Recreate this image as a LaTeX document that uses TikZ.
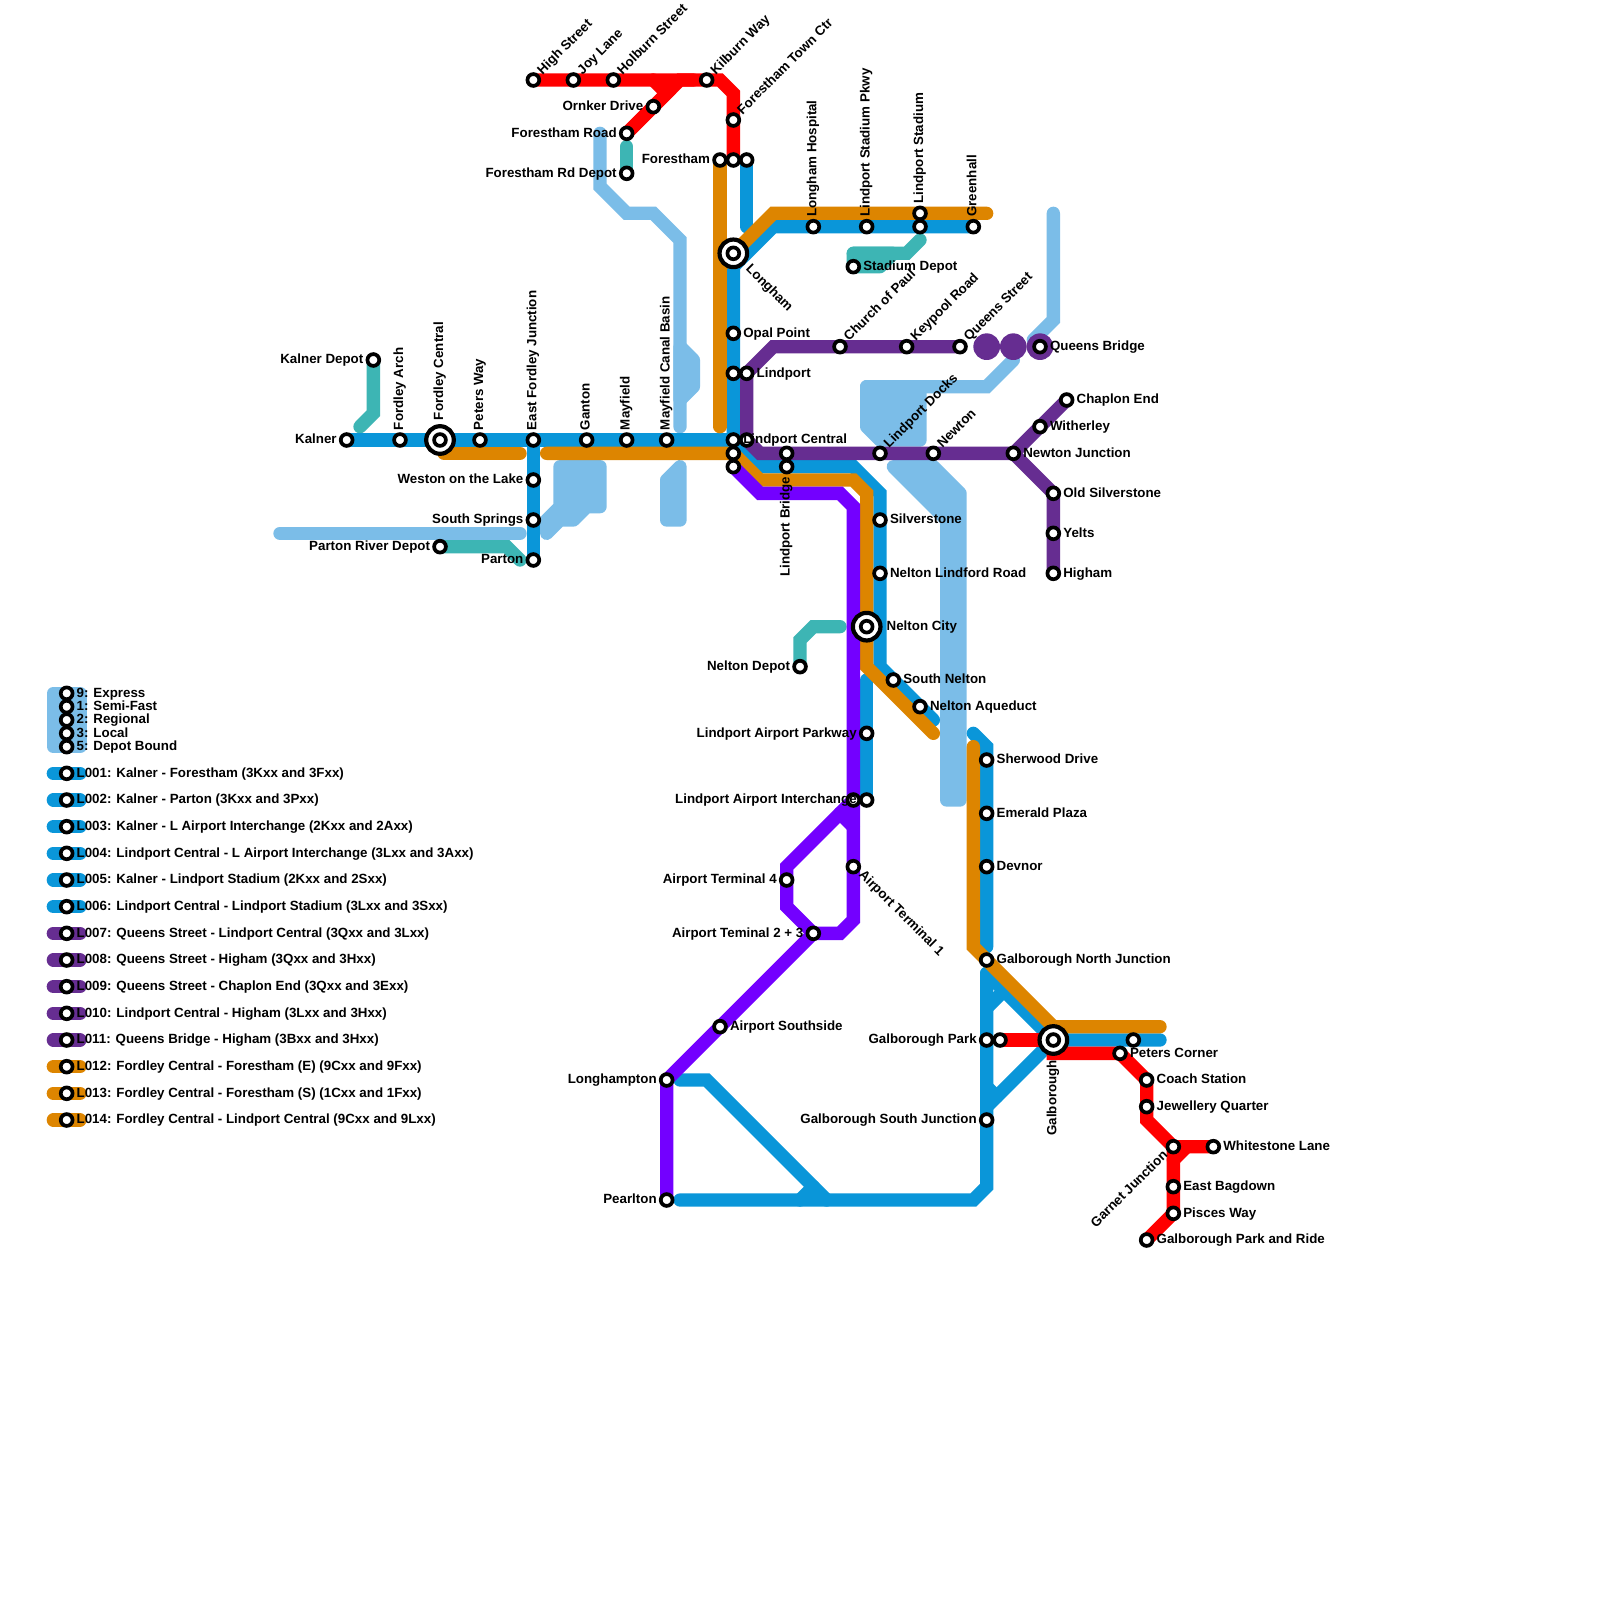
\documentclass[tikz,border=0pt]{standalone}
\usepackage{fontspec}
\setmainfont{Liberation Sans}
\definecolor{cblue}{HTML}{0A96D9}
\definecolor{corange}{HTML}{DD8500}
\definecolor{cpurple}{HTML}{662D91}
\definecolor{cviolet}{HTML}{7300FF}
\definecolor{cred}{HTML}{FF0000}
\definecolor{cteal}{HTML}{3DB5B4}
\definecolor{clight}{HTML}{7BBDE8}
\tikzset{
  rail/.style={line width=6.6667pt,line cap=round,line join=miter,miter limit=4},
  railfill/.style={rail,line join=round,draw=#1,fill=#1},
  st/.style={circle,draw=black,fill=white,line width=1.85pt,minimum size=5.9pt,inner sep=0pt,outer sep=0pt},
  bigst/.style={circle,draw=black,fill=white,line width=2.1pt,minimum size=13.8pt,inner sep=0pt,outer sep=0pt},
  dot/.style={circle,fill=cpurple,minimum size=13.33pt,inner sep=0pt,outer sep=0pt},
  lab/.style={inner sep=0pt,outer sep=0pt,text=black,font=\fontsize{6.667}{7.5}\selectfont\bfseries},
  lE/.style={lab,anchor=base west,xshift=5pt,yshift=-1.9pt},
  lEE/.style={lab,anchor=base west,xshift=10pt,yshift=-1.9pt},
  lW/.style={lab,anchor=base east,xshift=-5pt,yshift=-1.9pt},
  lN/.style={lab,xshift=1.5pt,yshift=5pt,rotate=90,anchor=base west},
  lNN/.style={lab,xshift=1.5pt,yshift=10pt,rotate=90,anchor=base west},
  lS/.style={lab,xshift=1.5pt,yshift=-5pt,rotate=90,anchor=base east},
  lSS/.style={lab,xshift=1.5pt,yshift=-10pt,rotate=90,anchor=base east},
  lNE/.style={lab,xshift=4.6pt,yshift=2.47pt,rotate=45,anchor=base west},
  lSE/.style={lab,xshift=2.48pt,yshift=-4.6pt,rotate=-45,anchor=base west},
  lSEE/.style={lab,xshift=6pt,yshift=-8.1pt,rotate=-45,anchor=base west},
  lSW/.style={lab,xshift=-2.48pt,yshift=-4.6pt,rotate=45,anchor=base east},
}
\begin{document}
\begin{tikzpicture}[x=6.66667pt,y=-6.66667pt]
\fill[white] (0,0) rectangle (120,120);
\useasboundingbox (0,0) rectangle (120,120);
% station positions
\foreach \n/\x/\y in {hs/40/6,jl/43/6,hb/46/6,kw/53/6,ftc/55/9,od/49/8,fr/47/10,frd/47/13,fa/54/12,fb/55/12,fc/56/12,
 lg/55/19,op/55/25,lpa/55/28,lpb/56/28,lca/55/33,lcb/56/33,lcc/55/34,lcd/55/35,
 ka/26/33,kd/28/27,far/30/33,fdc/33/33,pw/36/33,efj/40/33,gt/44/33,mf/47/33,mcb/50/33,
 wl/40/36,ss/40/39,pt/40/42,prd/33/41,
 lh/61/17,lsp/65/17,lsa/69/16,lsb/69/17,gh/73/17,sd/64/20,
 cp/63/26,kr/68/26,qs/72/26,qa/74/26,qb/76/26,qbr/78/26,ce/80/30,wi/78/32,nj/76/34,nw/70/34,ld/66/34,
 os/79/37,yl/79/40,hi/79/43,lba/59/34,lbb/59/35,si/66/39,nl/66/43,nc/65/47,nd/60/50,sn/67/51,na/69/53,lap/65/55,
 aia/65/60,aib/64/60,at1/64/65,at4/59/66,at2/61/70,as/54/77,lo/50/81,pe/50/90,
 sh/74/57,em/74/61,de/74/65,gn/74/72,gpa/74/78,gpb/75/78,gb/79/78,gs/74/84,
 pca/85/78,pcb/84/79,co/86/81,jq/86/83,ga/88/86,wh/91/86,eb/88/89,pi/88/91,gr/86/93}
  {\coordinate (\n) at (\x,\y);}
% legend keys
\filldraw[railfill=clight] (4,52) -- (6,52) -- (6,56) -- (4,56) -- cycle;
\foreach \y in {58,60,62,64,66,68} {\draw[rail,cblue] (4,\y) -- (6,\y);}
\foreach \y in {70,72,74,76,78} {\draw[rail,cpurple] (4,\y) -- (6,\y);}
\foreach \y in {80,82,84} {\draw[rail,corange] (4,\y) -- (6,\y);}
% light blue
\draw[rail,clight] (21,40) -- (39,40);
\filldraw[railfill=clight] (42,35) -- (45,35) -- (45,38) -- (44,38) -- (43,39) -- (42,39) -- (41,40) -- (41,39) -- (42,38) -- cycle;
\filldraw[railfill=clight] (51,35) -- (51,39) -- (50,39) -- (50,36) -- cycle;
\draw[rail,clight] (45,10) -- (45,14) -- (47,16) -- (49,16) -- (51,18) -- (51,32);
\filldraw[railfill=clight] (51,26) -- (52,27) -- (52,29) -- (51,30) -- cycle;
\filldraw[railfill=clight] (65,29) -- (69,29) -- (69,33) -- (66,33) -- (65,32) -- cycle;
\draw[rail,clight] (65,29) -- (74,29) -- (76,27);
\filldraw[railfill=clight] (67,35) -- (70,35) -- (72,37) -- (72,60) -- (71,60) -- (71,39) -- cycle;
\draw[rail,clight] (79,16) -- (79,24) -- (77.5,25.5);
% teal
\draw[rail,cteal] (kd) -- (28,31) -- (27,32);
\draw[rail,cteal] (prd) -- (38,41) -- (39,42);
\draw[rail,cteal] (47,11) -- (frd);
\draw[rail,cteal] (nd) -- (60,48) -- (61,47) -- (63,47);
\draw[rail,cteal] (64,19) -- (68,19) -- (69,18);
\filldraw[railfill=cteal] (64,19) -- (67,19) -- (66,20) -- (sd) -- cycle;
% blue
\draw[rail,cblue] (ka) -- (lca);
\draw[rail,cblue] (lg) -- (lca) -- (57,35) -- (64,35) -- (66,37) -- (66,50) -- (70,54);
\draw[rail,cblue] (fc) -- (56,17);
\draw[rail,cblue] (55,20) -- (58,17) -- (gh);
\draw[rail,cblue] (efj) -- (pt);
\draw[rail,cblue] (65,51) -- (aia);
\draw[rail,cblue] (73,55) -- (74,56) -- (74,71);
\draw[rail,cblue] (74,73) -- (74,89) -- (73,90) -- (51,90);
\draw[rail,cblue] (74,73) -- (gb) -- (87,78);
\draw[rail,cblue] (gb) -- (74,83);
\draw[rail,cblue] (74,75.6) -- (75.3,74.3);
\draw[rail,cblue] (74,81.5) -- (74.75,82.25);
\draw[rail,cblue] (51,81) -- (53,81) -- (62,90);
\draw[rail,cblue] (60,90) -- (61,89);
% orange
\draw[rail,corange] (fa) -- (54,32);
\draw[rail,corange] (54,20) -- (58,16) -- (74,16);
\draw[rail,corange] (33.3,34) -- (39,34);
\draw[rail,corange] (41,34) -- (lcc) -- (57,36) -- (64,36) -- (65,37) -- (65,50) -- (70,55);
\draw[rail,corange] (73,56) -- (73,71) -- (79,77) -- (87,77);
% red
\draw[rail,cred] (hs) -- (kw) -- (54,6) -- (55,7) -- (fb);
\draw[rail,cred] (49,6) -- (50,7) -- (fr);
\draw[rail,cred] (fr) -- (51,6) -- (52,6);
\draw[rail,cred] (gpb) -- (gb);
\draw[rail,cred] (gb) -- (79,79) -- (pcb) -- (co) -- (86,84) -- (ga) -- (wh);
\draw[rail,cred] (ga) -- (pi) -- (gr);
\draw[rail,cred] (88,87) -- (89,86);
% purple
\draw[rail,cpurple] (qs) -- (58,26) -- (56,28) -- (lcb) -- (57,34) -- (nj) -- (ce);
\draw[rail,cpurple] (nj) -- (os) -- (hi);
\node[dot] (ndqa) at (qa) {};
\node[dot] (ndqb) at (qb) {};
\node[dot] (ndqc) at (qbr) {};
% violet
\draw[rail,cviolet] (lcd) -- (57,37) -- (63,37) -- (64,38) -- (64,69) -- (63,70) -- (at2) -- (59,68) -- (59,65) -- (aib);
\draw[rail,cviolet] (63,61) -- (64,62);
\draw[rail,cviolet] (at2) -- (lo) -- (pe);
% stations
\foreach \y in {52,53,54,55,56,58,60,62,64,66,68,70,72,74,76,78,80,82,84} {\node[st] (key\y) at (5,\y) {};}
\foreach \n in {hs,jl,hb,kw,ftc,od,fr,frd,fa,fb,fc,op,lpa,lpb,lca,lcb,lcc,lcd,ka,kd,far,pw,efj,gt,mf,mcb,wl,ss,pt,prd,
 lh,lsp,lsa,lsb,gh,sd,cp,kr,qs,qbr,ce,wi,nj,nw,ld,os,yl,hi,lba,lbb,si,nl,nd,sn,na,lap,aia,aib,at1,at4,at2,as,lo,pe,
 sh,em,de,gn,gpa,gpb,gs,pca,pcb,co,jq,ga,wh,eb,pi,gr}
  {\node[st] (st\n) at (\n) {};}
\foreach \n in {lg,fdc,nc,gb} {\node[bigst] (big\n) at (\n) {}; \node[st] (st\n) at (\n) {};}
% labels
\node[lNE] (t1) at (hs) {High Street};
\node[lNE] (t2) at (jl) {Joy Lane};
\node[lNE] (t3) at (hb) {Holburn Street};
\node[lNE] (t4) at (kw) {Kilburn Way};
\node[lNE] (t5) at (ftc) {Forestham Town Ctr};
\node[lW] (t6) at (od) {Ornker Drive};
\node[lW] (t7) at (fr) {Forestham Road};
\node[lW] (t8) at (frd) {Forestham Rd Depot};
\node[lW] (t9) at (fa) {Forestham};
\node[lSEE] (t10) at (lg) {Longham};
\node[lE] (t11) at (op) {Opal Point};
\node[lE] (t12) at (lpb) {Lindport};
\node[lE] (t13) at (lca) {Lindport Central};
\node[lW] (t14) at (ka) {Kalner};
\node[lW] (t15) at (kd) {Kalner Depot};
\node[lN] (t16) at (far) {Fordley Arch};
\node[lNN] (t17) at (fdc) {Fordley Central};
\node[lN] (t18) at (pw) {Peters Way};
\node[lN] (t19) at (efj) {East Fordley Junction};
\node[lN] (t20) at (gt) {Ganton};
\node[lN] (t21) at (mf) {Mayfield};
\node[lN] (t22) at (mcb) {Mayfield Canal Basin};
\node[lW] (t23) at (wl) {Weston on the Lake};
\node[lW] (t24) at (ss) {South Springs};
\node[lW] (t25) at (pt) {Parton};
\node[lW] (t26) at (prd) {Parton River Depot};
\node[lN] (t27) at (lh) {Longham Hospital};
\node[lN] (t28) at (lsp) {Lindport Stadium Pkwy};
\node[lN] (t29) at (lsa) {Lindport Stadium};
\node[lN] (t30) at (gh) {Greenhall};
\node[lE] (t31) at (sd) {Stadium Depot};
\node[lNE] (t32) at (cp) {Church of Paul};
\node[lNE] (t33) at (kr) {Keypool Road};
\node[lNE] (t34) at (qs) {Queens Street};
\node[lE] (t35) at (qbr) {Queens Bridge};
\node[lE] (t36) at (ce) {Chaplon End};
\node[lE] (t37) at (wi) {Witherley};
\node[lE] (t38) at (nj) {Newton Junction};
\node[lNE] (t39) at (nw) {Newton};
\node[lNE] (t40) at (ld) {Lindport Docks};
\node[lE] (t41) at (os) {Old Silverstone};
\node[lE] (t42) at (yl) {Yelts};
\node[lE] (t43) at (hi) {Higham};
\node[lS] (t44) at (lbb) {Lindport Bridge};
\node[lE] (t45) at (si) {Silverstone};
\node[lE] (t46) at (nl) {Nelton Lindford Road};
\node[lEE] (t47) at (nc) {Nelton City};
\node[lW] (t48) at (nd) {Nelton Depot};
\node[lE] (t49) at (sn) {South Nelton};
\node[lE] (t50) at (na) {Nelton Aqueduct};
\node[lW] (t51) at (lap) {Lindport Airport Parkway};
\node[lW] (t52) at (aia) {Lindport Airport Interchange};
\node[lSE] (t53) at (at1) {Airport Terminal 1};
\node[lW] (t54) at (at4) {Airport Terminal 4};
\node[lW] (t55) at (at2) {Airport Teminal 2 + 3};
\node[lE] (t56) at (as) {Airport Southside};
\node[lW] (t57) at (lo) {Longhampton};
\node[lW] (t58) at (pe) {Pearlton};
\node[lE] (t59) at (sh) {Sherwood Drive};
\node[lE] (t60) at (em) {Emerald Plaza};
\node[lE] (t61) at (de) {Devnor};
\node[lE] (t62) at (gn) {Galborough North Junction};
\node[lW] (t63) at (gpa) {Galborough Park};
\node[lSS] (t64) at (gb) {Galborough};
\node[lW] (t65) at (gs) {Galborough South Junction};
\node[lE] (t66) at (pcb) {Peters Corner};
\node[lE] (t67) at (co) {Coach Station};
\node[lE] (t68) at (jq) {Jewellery Quarter};
\node[lSW] (t69) at (ga) {Garnet Junction};
\node[lE] (t70) at (wh) {Whitestone Lane};
\node[lE] (t71) at (eb) {East Bagdown};
\node[lE] (t72) at (pi) {Pisces Way};
\node[lE] (t73) at (gr) {Galborough Park and Ride};
% legend text
\node[lE] (k1) at (key52) {9: Express};
\node[lE] (k2) at (key53) {1: Semi-Fast};
\node[lE] (k3) at (key54) {2: Regional};
\node[lE] (k4) at (key55) {3: Local};
\node[lE] (k5) at (key56) {5: Depot Bound};
\node[lE] (k6) at (key58) {L001: Kalner - Forestham (3Kxx and 3Fxx)};
\node[lE] (k7) at (key60) {L002: Kalner - Parton (3Kxx and 3Pxx)};
\node[lE] (k8) at (key62) {L003: Kalner - L Airport Interchange (2Kxx and 2Axx)};
\node[lE] (k9) at (key64) {L004: Lindport Central - L Airport Interchange (3Lxx and 3Axx)};
\node[lE] (k10) at (key66) {L005: Kalner - Lindport Stadium (2Kxx and 2Sxx)};
\node[lE] (k11) at (key68) {L006: Lindport Central - Lindport Stadium (3Lxx and 3Sxx)};
\node[lE] (k12) at (key70) {L007: Queens Street - Lindport Central (3Qxx and 3Lxx)};
\node[lE] (k13) at (key72) {L008: Queens Street - Higham (3Qxx and 3Hxx)};
\node[lE] (k14) at (key74) {L009: Queens Street - Chaplon End (3Qxx and 3Exx)};
\node[lE] (k15) at (key76) {L010: Lindport Central - Higham (3Lxx and 3Hxx)};
\node[lE] (k16) at (key78) {L011: Queens Bridge - Higham (3Bxx and 3Hxx)};
\node[lE] (k17) at (key80) {L012: Fordley Central - Forestham (E) (9Cxx and 9Fxx)};
\node[lE] (k18) at (key82) {L013: Fordley Central - Forestham (S) (1Cxx and 1Fxx)};
\node[lE] (k19) at (key84) {L014: Fordley Central - Lindport Central (9Cxx and 9Lxx)};
\end{tikzpicture}
\end{document}
